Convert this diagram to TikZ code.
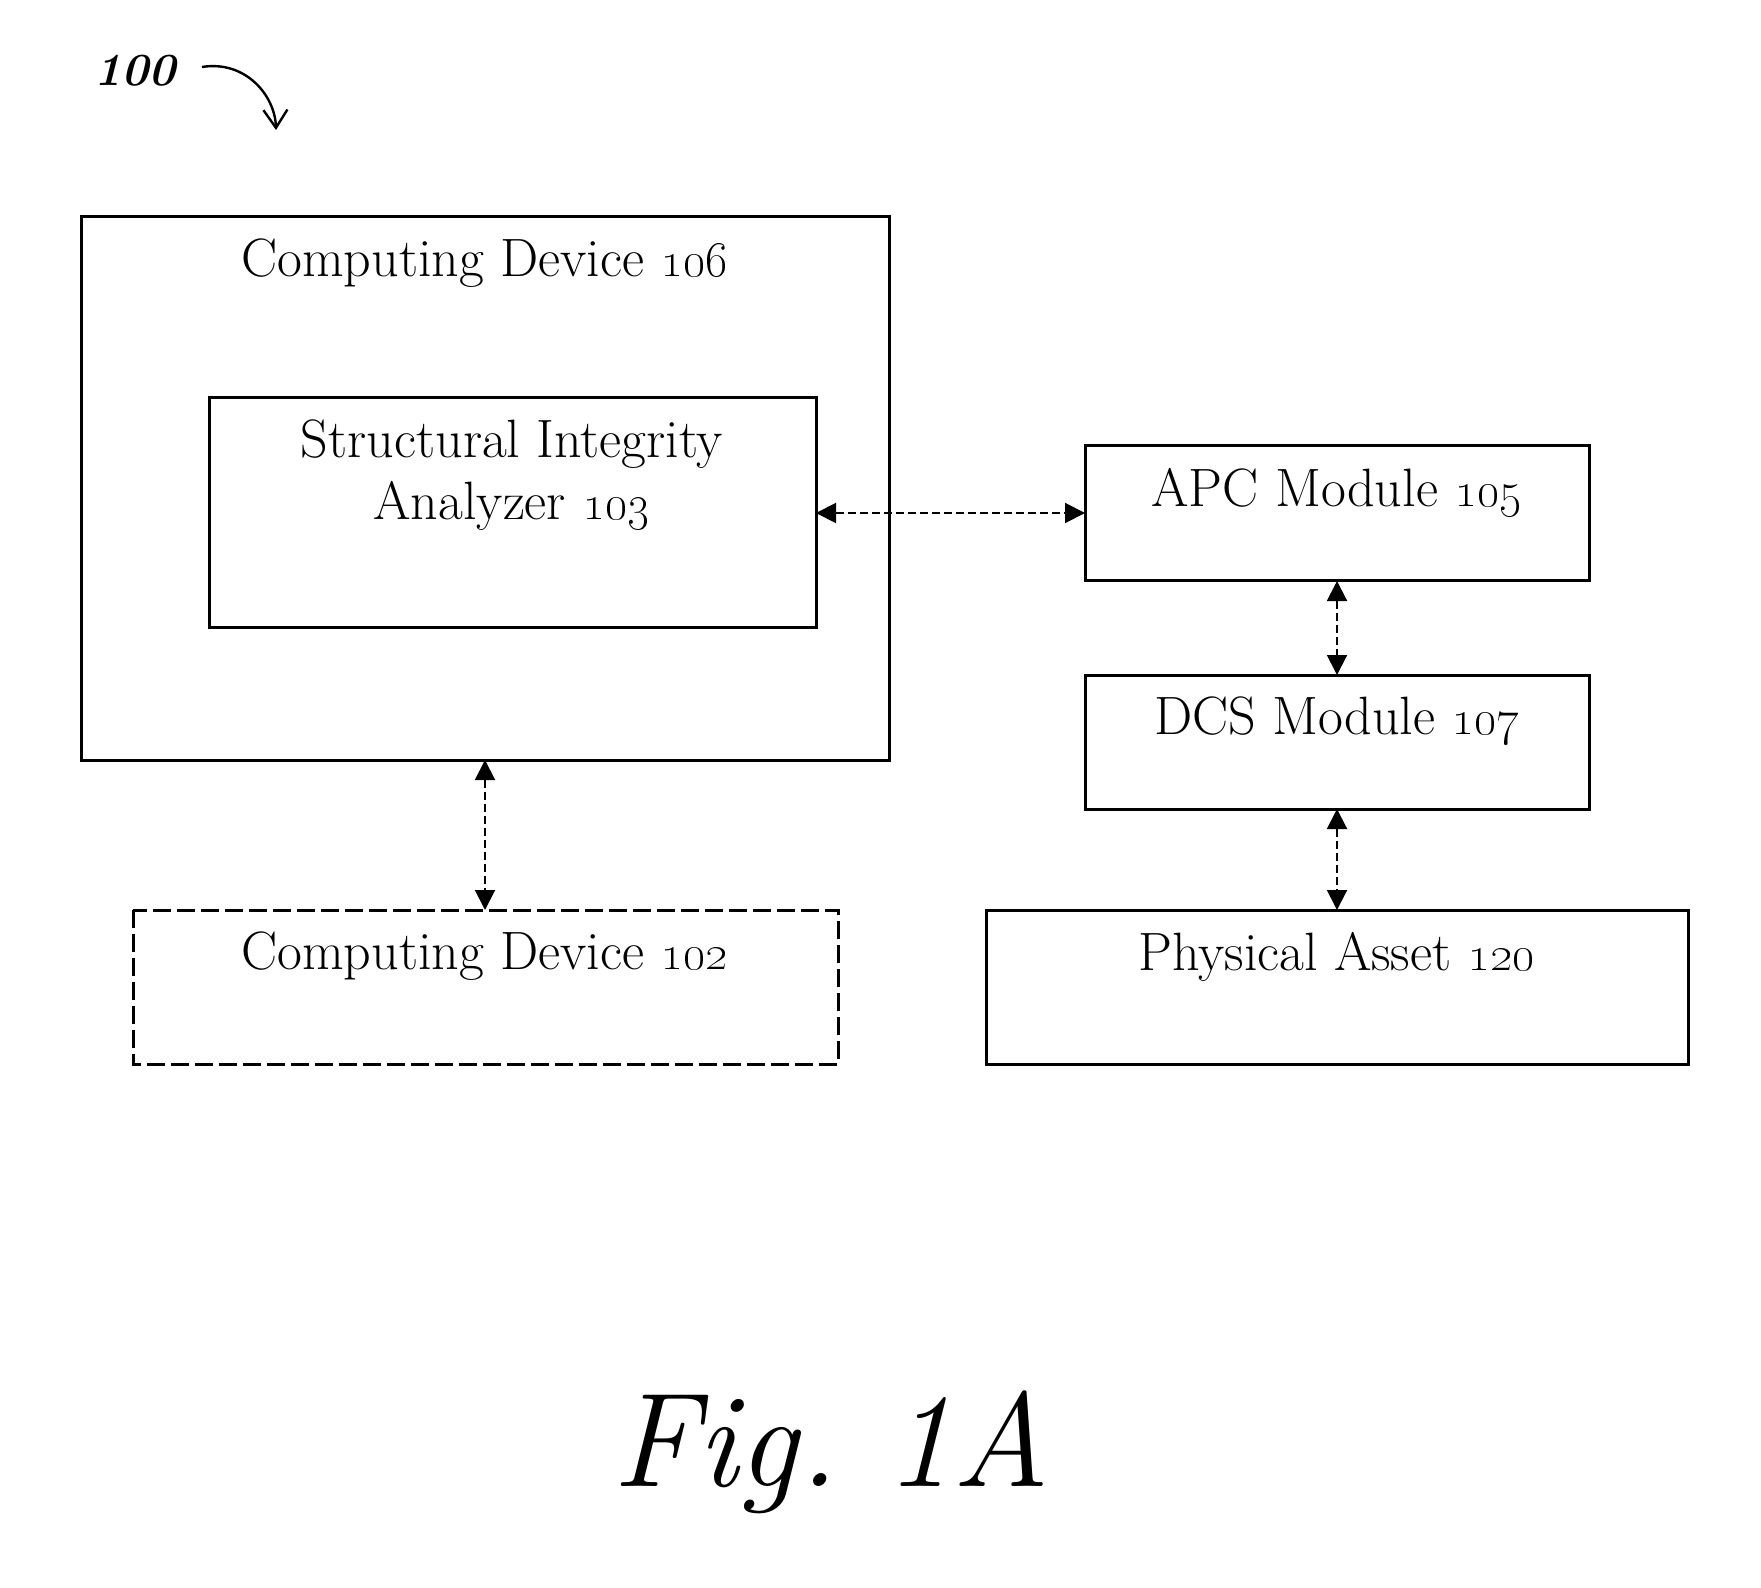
\documentclass[tikz,border=0pt]{standalone}
\usetikzlibrary{arrows.meta}
\begin{document}
\begin{tikzpicture}[x=0.5pt,y=-0.5pt,
  box/.style={draw,line width=1.5pt,inner sep=0pt},
  lbl/.style={font=\fontsize{27}{31}\selectfont,align=center,anchor=north},
  reflbl/.style={font=\fontsize{23}{27}\selectfont\bfseries\itshape},
  link/.style={line width=1pt,dash pattern=on 4pt off 2pt,{Triangle[length=10pt,width=10pt]}-{Triangle[length=10pt,width=10pt]}}]
\useasboundingbox (0,0) rectangle (1761,1588);
% boxes
\draw[box] (81,217) rectangle (889,760);
\coordinate (cd106) at (485,760);
\node[lbl] (t106) at (485,232) {Computing Device \oldstylenums{106}};
\draw[box] (209,398) rectangle (816,627);
\coordinate (sia) at (816,513);
\node[lbl] (t103) at (512,413) {Structural Integrity\\Analyzer \oldstylenums{103}};
\draw[box] (1085,446) rectangle (1589,581);
\coordinate (apcW) at (1085,513);
\coordinate (apcS) at (1337,581);
\node[lbl] (t105) at (1337,461) {APC Module \oldstylenums{105}};
\draw[box] (1085,675) rectangle (1589,809);
\coordinate (dcsN) at (1337,675);
\coordinate (dcsS) at (1337,809);
\node[lbl] (t107) at (1337,690) {DCS Module \oldstylenums{107}};
\draw[box,dash pattern=on 9pt off 3pt] (133,910) rectangle (838,1064);
\coordinate (cd102) at (485,910);
\node[lbl] (t102) at (485,925) {Computing Device \oldstylenums{102}};
\draw[box] (986,910) rectangle (1688,1064);
\coordinate (pa) at (1337,910);
\node[lbl] (t120) at (1337,925) {Physical Asset \oldstylenums{120}};
% connectors
\draw[link] (sia) -- (apcW);
\draw[link] (cd106) -- (cd102);
\draw[link] (apcS) -- (dcsN);
\draw[link] (dcsS) -- (pa);
% reference label
\node[reflbl] (ref) at (135,71) {100};
\coordinate (refend) at (276,130);
\draw[line width=1.2pt,-{Straight Barb[length=9pt,width=12pt]}] (202,67) .. controls (245,60) and (275,95) .. (refend);
% figure caption
\node (fig) at (831,1452) {\fontsize{67}{72}\selectfont\itshape Fig.\ 1A};
\end{tikzpicture}
\end{document}
